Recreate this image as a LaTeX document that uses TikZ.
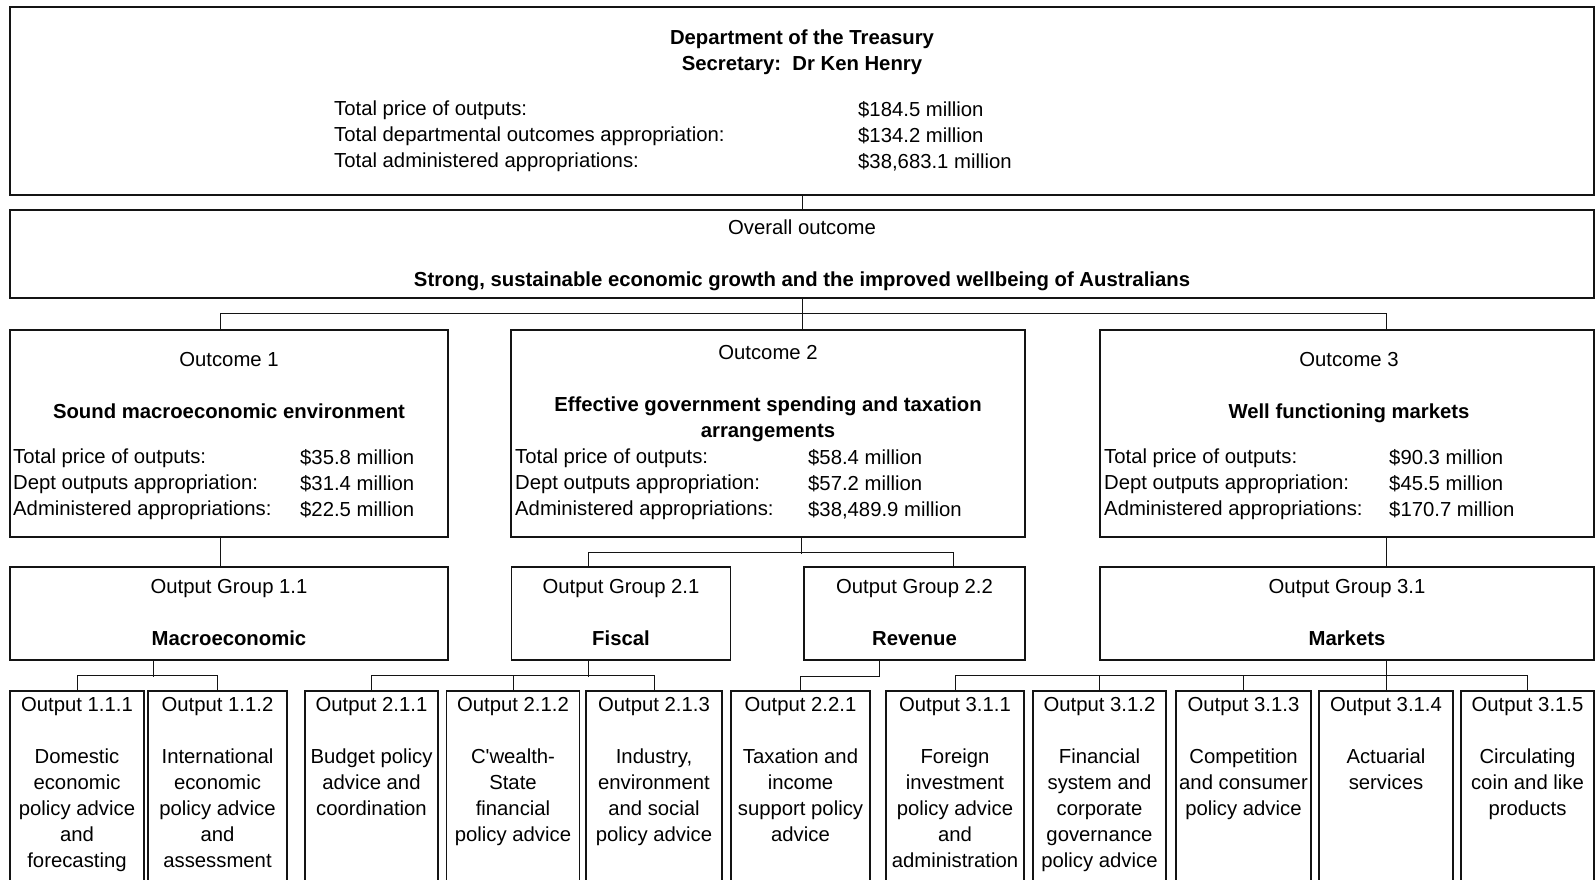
\documentclass[tikz,border=0pt]{standalone}
\usepackage{fontspec}
\setmainfont{Liberation Sans}
\usepackage{xcolor}
\definecolor{lineGrey}{RGB}{20, 20, 20}
\usepackage{tikz}

\begin{document}
\begin{tikzpicture}[x=1pt, y=-1pt,
  box/.style={draw=lineGrey, line width=1.3pt, inner sep=0pt},
  head/.style={inner sep=0pt, align=center, anchor=north, font=\fontsize{20.3}{26}\selectfont},
  rows/.style={inner sep=0pt, align=left, anchor=north west, font=\fontsize{20.3}{26}\selectfont},
  link/.style={draw=lineGrey, line width=1pt}]
\useasboundingbox (0,0) rectangle (1596,879);
\fill[white] (0,0) rectangle (1596,879);
\clip (0,0) rectangle (1596,879);

% department
\node[box, minimum width=1584pt, minimum height=188pt] (dept) at (802,101) {};
\node[head] (deptHead) at (802,30) {\textbf{Department of the Treasury}\\\textbf{Secretary:\ \ Dr Ken Henry}};
\node[rows] (deptLbl) at (334,101) {Total price of outputs:\\Total departmental outcomes appropriation:\\Total administered appropriations:};
\node[rows] (deptVal) at (858,101) {\$184.5 million\\\$134.2 million\\\$38,683.1 million};

% overall outcome
\node[box, minimum width=1584pt, minimum height=88pt] (ovr) at (802,254) {};
\node[head] (ovrHead) at (802,220) {Overall outcome\\[26pt]\textbf{Strong, sustainable economic growth and the improved wellbeing of Australians}};

% outcomes
\node[box, minimum width=438pt, minimum height=207pt] (oc1) at (229,433.5) {};
\node[box, minimum width=514pt, minimum height=207pt] (oc2) at (768,433.5) {};
\node[box, minimum width=494pt, minimum height=207pt] (oc3) at (1347,433.5) {};
\node[head] (oc1Head) at (229,352) {Outcome 1\\[26pt]\textbf{Sound macroeconomic environment}};
\node[head] (oc2Head) at (768,345) {Outcome 2\\[26pt]\textbf{Effective government spending and taxation}\\\textbf{arrangements}};
\node[head] (oc3Head) at (1349,352) {Outcome 3\\[26pt]\textbf{Well functioning markets}};
\node[rows] (oc1Lbl) at (13,449) {Total price of outputs:\\Dept outputs appropriation:\\Administered appropriations:};
\node[rows] (oc1Val) at (300,449) {\$35.8 million\\\$31.4 million\\\$22.5 million};
\node[rows] (oc2Lbl) at (515,449) {Total price of outputs:\\Dept outputs appropriation:\\Administered appropriations:};
\node[rows] (oc2Val) at (808,449) {\$58.4 million\\\$57.2 million\\\$38,489.9 million};
\node[rows] (oc3Lbl) at (1104,449) {Total price of outputs:\\Dept outputs appropriation:\\Administered appropriations:};
\node[rows] (oc3Val) at (1389,449) {\$90.3 million\\\$45.5 million\\\$170.7 million};

% output groups
\node[box, minimum width=438pt, minimum height=93pt] (og11) at (229,613.5) {};
\node[box, minimum width=219pt, minimum height=93pt] (og21) at (621,613.5) {};
\node[box, minimum width=221pt, minimum height=93pt] (og22) at (914.5,613.5) {};
\node[box, minimum width=494pt, minimum height=93pt] (og31) at (1347,613.5) {};
\node[head] (og11Head) at (229,579) {Output Group 1.1\\[26pt]\textbf{Macroeconomic}};
\node[head] (og21Head) at (621,579) {Output Group 2.1\\[26pt]\textbf{Fiscal}};
\node[head] (og22Head) at (914.5,579) {Output Group 2.2\\[26pt]\textbf{Revenue}};
\node[head] (og31Head) at (1347,579) {Output Group 3.1\\[26pt]\textbf{Markets}};

% outputs (cut off at the foot of the page)
\node[box, minimum width=134pt, minimum height=220pt] (p111) at (77,801) {};
\node[box, minimum width=139pt, minimum height=220pt] (p112) at (217.5,801) {};
\node[box, minimum width=133pt, minimum height=220pt] (p211) at (371.5,801) {};
\node[box, minimum width=133pt, minimum height=220pt] (p212) at (513,801) {};
\node[box, minimum width=136pt, minimum height=220pt] (p213) at (654,801) {};
\node[box, minimum width=139pt, minimum height=220pt] (p221) at (800.5,801) {};
\node[box, minimum width=138pt, minimum height=220pt] (p311) at (955,801) {};
\node[box, minimum width=133pt, minimum height=220pt] (p312) at (1099.5,801) {};
\node[box, minimum width=135pt, minimum height=220pt] (p313) at (1243.5,801) {};
\node[box, minimum width=134pt, minimum height=220pt] (p314) at (1386,801) {};
\node[box, minimum width=133pt, minimum height=220pt] (p315) at (1527.5,801) {};
\node[head] (p111Txt) at (77,697) {Output 1.1.1\\[26pt]Domestic\\economic\\policy advice\\and\\forecasting};
\node[head] (p112Txt) at (217.5,697) {Output 1.1.2\\[26pt]International\\economic\\policy advice\\and\\assessment};
\node[head] (p211Txt) at (371.5,697) {Output 2.1.1\\[26pt]Budget policy\\advice and\\coordination};
\node[head] (p212Txt) at (513,697) {Output 2.1.2\\[26pt]C\textquotesingle wealth-\\State\\financial\\policy advice};
\node[head] (p213Txt) at (654,697) {Output 2.1.3\\[26pt]Industry,\\environment\\and social\\policy advice};
\node[head] (p221Txt) at (800.5,697) {Output 2.2.1\\[26pt]Taxation and\\income\\support policy\\advice};
\node[head] (p311Txt) at (955,697) {Output 3.1.1\\[26pt]Foreign\\investment\\policy advice\\and\\administration};
\node[head] (p312Txt) at (1099.5,697) {Output 3.1.2\\[26pt]Financial\\system and\\corporate\\governance\\policy advice};
\node[head] (p313Txt) at (1243.5,697) {Output 3.1.3\\[26pt]Competition\\and consumer\\policy advice};
\node[head] (p314Txt) at (1386,697) {Output 3.1.4\\[26pt]Actuarial\\services};
\node[head] (p315Txt) at (1527.5,697) {Output 3.1.5\\[26pt]Circulating\\coin and like\\products};

% connectors
\draw[link] (dept.south) -- (ovr.north);
\draw[link] (ovr.south) -- (oc2.north -| ovr.south);
\draw[link] ([xshift=-9pt]oc1.north) -- ++(0,-16) -| ([xshift=39pt]oc3.north);
\draw[link] ([xshift=-9pt]oc1.south) -- ([xshift=-9pt]og11.north);
\draw[link] ([xshift=39pt]oc3.south) -- ([xshift=39pt]og31.north);
\draw[link] ([xshift=33pt]oc2.south) -- ++(0,16);
\draw[link] ([xshift=-33pt]og21.north) -- ++(0,-14) -| ([xshift=38.5pt]og22.north);
\draw[link] ([xshift=-76pt]og11.south) -- ++(0,16);
\draw[link] (p111.north) -- ++(0,-15) -| (p112.north);
\draw[link] ([xshift=-33pt]og21.south) -- ++(0,16);
\draw[link] (p211.north) -- ++(0,-15) -| (p213.north);
\draw[link] (p212.north) -- ++(0,-15);
\draw[link] ([xshift=-35.5pt]og22.south) -- ++(0,16) -| (p221.north);
\draw[link] ([xshift=39pt]og31.south) -- ++(0,16);
\draw[link] (p311.north) -- ++(0,-15) -| (p315.north);
\draw[link] (p312.north) -- ++(0,-15);
\draw[link] (p313.north) -- ++(0,-15);
\draw[link] (p314.north) -- ++(0,-15);
\end{tikzpicture}
\end{document}
